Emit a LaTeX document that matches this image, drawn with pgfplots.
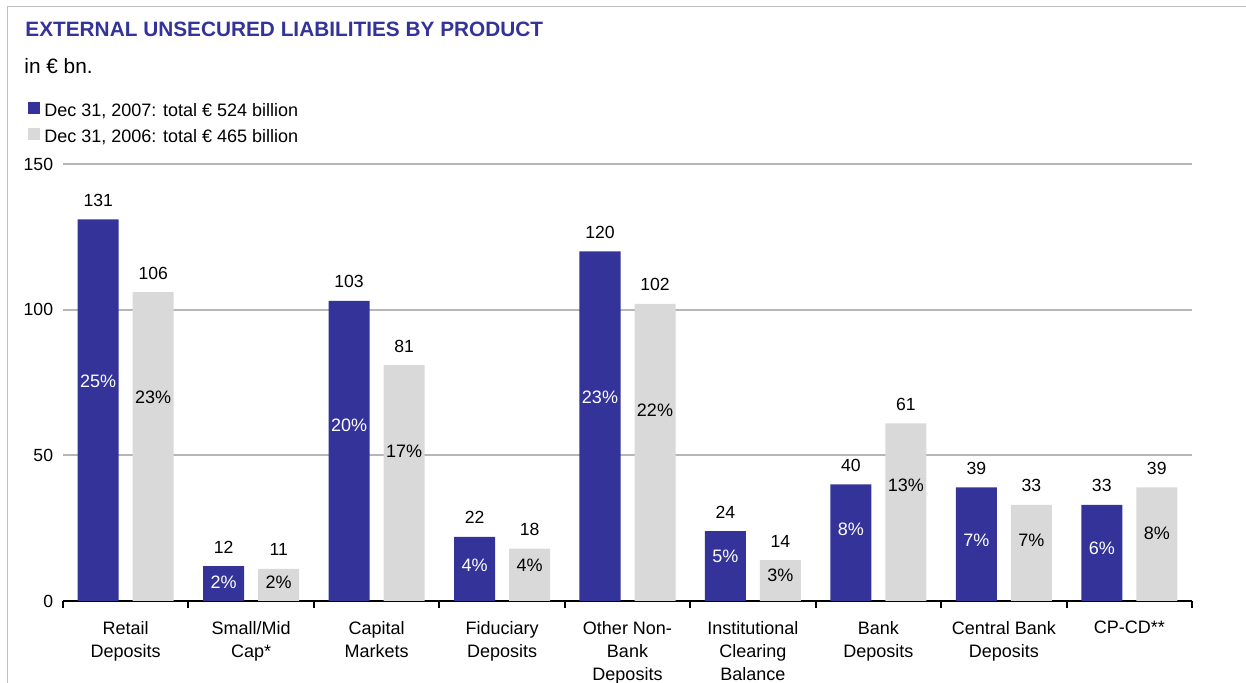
\documentclass[border=0pt]{standalone}
\usepackage{pgfplots}
\pgfplotsset{compat=1.18}
\usepackage{fontspec}
\setmainfont{Liberation Sans}
\definecolor{dbblue}{RGB}{51,51,153}
\definecolor{dbgray}{RGB}{217,217,217}
\definecolor{gridgray}{RGB}{182,182,182}
\definecolor{framegray}{RGB}{192,192,192}
\begin{document}
\begin{tikzpicture}
\begin{axis}[
  scale only axis,
  width=564.5pt, height=218.5pt,
  xmin=-0.5, xmax=8.5, ymin=0, ymax=150,
  enlargelimits=false,
  axis x line*=bottom, axis y line*=left,
  x axis line style={black, line width=1pt},
  y axis line style={draw=none},
  ytick={0,50,100,150},
  ytick style={draw=none},
  ymajorgrids, grid style={gridgray, line width=1pt},
  xtick={0,...,8},
  xticklabels={{Retail\\Deposits},{Small/Mid\\Cap*},{Capital\\Markets},{Fiduciary\\Deposits},{Other Non-\\Bank\\Deposits},{Institutional\\Clearing\\Balance},{Bank\\Deposits},{Central Bank\\Deposits},{CP-CD**}},
  major x tick style={draw=none},
  minor xtick={-0.5,0.5,...,8.5},
  minor x tick style={black, line width=1pt},
  minor tick length=3.5pt,
  tick align=outside,
  xticklabel style={anchor=north, inner sep=0pt, yshift=-5.7pt, align=center, font=\fontsize{9}{11.5}\selectfont},
  yticklabel style={anchor=east, inner sep=0pt, xshift=-0.5pt, font=\fontsize{8.8}{10}\selectfont},
  /pgf/number format/assume math mode=true,
  legend style={at={(rel axis cs:-0.031,1.1430)}, anchor=north west, draw=none, fill=none,
    inner sep=0pt, row sep=4pt, column sep=2pt, font=\fontsize{9}{10}\selectfont,
    nodes={inner sep=0pt, text height=6.5pt, text depth=2pt}},
  legend cell align=left,
]
% 2007 bars
\addplot[ybar, bar width=20.5pt, bar shift=-13.75pt, fill=dbblue, draw=none,
  nodes near coords, every node near coord/.append style={anchor=base, inner sep=0pt, xshift=-13.75pt, yshift=6.5pt, text=black, font=\fontsize{8.8}{10}\selectfont},
  legend image code/.code={\fill[dbblue] (0pt,-1pt) rectangle (6pt,5pt);}]
  coordinates {(0,131) (1,12) (2,103) (3,22) (4,120) (5,24) (6,40) (7,39) (8,33)};
\addlegendentry{Dec 31, 2007: total € 524 billion}
% 2006 bars
\addplot[ybar, bar width=20.5pt, bar shift=13.75pt, fill=dbgray, draw=none,
  nodes near coords, every node near coord/.append style={anchor=base, inner sep=0pt, xshift=13.75pt, yshift=6.5pt, text=black, font=\fontsize{8.8}{10}\selectfont},
  legend image code/.code={\fill[dbgray] (0pt,-1pt) rectangle (6pt,5pt);}]
  coordinates {(0,106) (1,11) (2,81) (3,18) (4,102) (5,14) (6,61) (7,33) (8,39)};
\addlegendentry{Dec 31, 2006: total € 465 billion}
% shares inside bars
\addplot[forget plot, only marks, mark=none, nodes near coords, point meta=explicit symbolic,
  nodes near coords align=center,
  every node near coord/.style={inner sep=0pt, text=white, font=\fontsize{9}{10}\selectfont}]
  coordinates {(-0.2192,75.3) [25\%] (0.7808,6.3) [2\%] (1.7808,60.4) [20\%] (2.7808,12.4) [4\%]
    (3.7808,69.9) [23\%] (4.7808,15.2) [5\%] (5.7808,24.7) [8\%] (6.7808,20.7) [7\%] (7.7808,18.1) [6\%]};
\addplot[forget plot, only marks, mark=none, nodes near coords, point meta=explicit symbolic,
  nodes near coords align=center,
  every node near coord/.style={inner sep=0pt, text=black, font=\fontsize{9}{10}\selectfont}]
  coordinates {(0.2192,69.9) [23\%] (1.2192,6.3) [2\%] (2.2192,51.3) [17\%] (3.2192,12.4) [4\%]
    (4.2192,65.3) [22\%] (5.2192,8.9) [3\%] (6.2192,39.6) [13\%] (7.2192,20.7) [7\%] (8.2192,23.4) [8\%]};
\end{axis}
\node[anchor=base west, inner sep=0pt, text=dbblue, font=\bfseries\fontsize{10.4}{12}\selectfont] at (-19pt,282pt) {EXTERNAL UNSECURED LIABILITIES BY PRODUCT};
\node[anchor=base west, inner sep=0pt, font=\fontsize{10.4}{12}\selectfont] at (-19.5pt,263.5pt) {in € bn.};
\draw[framegray, line width=0.8pt] (-27.75pt,-41pt) -- (-27.75pt,297.25pt) -- (591.5pt,297.25pt);
\pgfresetboundingbox
\useasboundingbox (-31.5pt,-41pt) rectangle (591.5pt,300.5pt);
\end{tikzpicture}
\end{document}
